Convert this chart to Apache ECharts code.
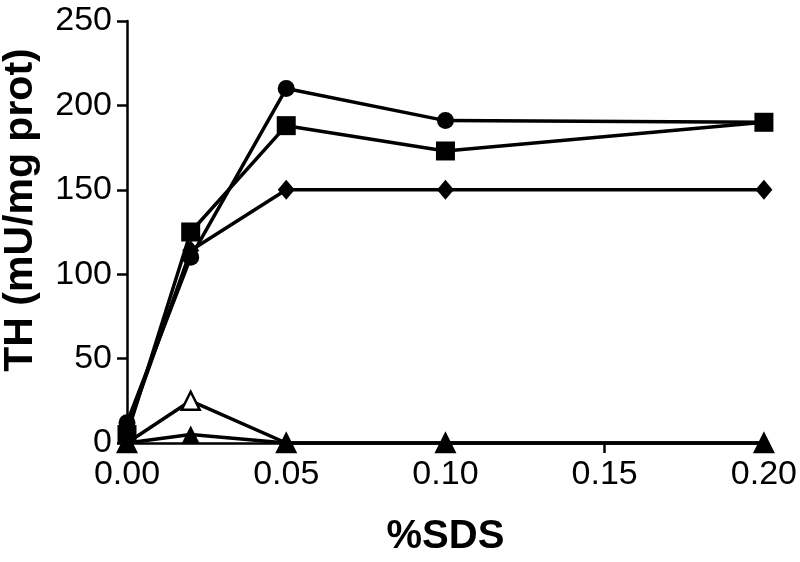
<!DOCTYPE html>
<html>
<head>
<meta charset="utf-8">
<script src="https://cdn.jsdelivr.net/npm/echarts@6/dist/echarts.min.js"></script>
<style>html,body{margin:0;padding:0;background:#fff;}#chart{width:800px;height:562px;}</style>
</head>
<body>
<div id="chart"></div>
<script>
var sds = [0.00, 0.02, 0.05, 0.10, 0.20];
var circleVals = [12, 110, 210, 191, 190];
var squareVals = [5, 125, 188, 173, 190];
var diamondVals = [8, 114, 150, 150, 150];
var openTriVals = [0, 25, 0, 0, 0];
var filledTriVals = [0, 5, 0, 0, 0];
var xTicks = [0, 0.05, 0.10, 0.15, 0.20];
var yTicks = [0, 50, 100, 150, 200, 250];
var xTitle = '%SDS';
var yTitle = 'TH (mU/mg prot)';

function pairs(vals) { return sds.map(function (x, i) { return [x, vals[i]]; }); }

var font = 'Liberation Sans, Arial, sans-serif';
var chart = echarts.init(document.getElementById('chart'));
function mk(name, vals, symbol, size, fill) {
  return {
    name: name, type: 'line', data: pairs(vals), symbol: symbol, symbolSize: size,
    lineStyle: { color: '#000', width: 3.5 },
    itemStyle: { color: fill, borderColor: '#000', borderWidth: fill === '#fff' ? 2.5 : 0 },
    z: 3, animation: false
  };
}
chart.setOption({
  animation: false,
  grid: { left: 127, right: 33, top: 21, bottom: 116, containLabel: false },
  graphic: [{
    type: 'text', x: 21, y: 210, rotation: Math.PI / 2,
    style: { text: yTitle, fontFamily: font, fontWeight: 'bold', fontSize: 41, fill: '#000',
      align: 'center', verticalAlign: 'middle' }
  }],
  xAxis: {
    type: 'value', min: 0, max: 0.2, interval: 0.05,
    name: xTitle, nameLocation: 'middle', nameGap: 74,
    nameTextStyle: { fontFamily: font, fontWeight: 'bold', fontSize: 40, color: '#000' },
    axisLine: { show: true, onZero: false, lineStyle: { color: '#000', width: 2.5 } },
    axisTick: { show: true, length: 10, lineStyle: { color: '#000', width: 2.5 } },
    axisLabel: { fontFamily: font, fontSize: 34, color: '#000', margin: 15,
      formatter: function (v) { return v.toFixed(2); } },
    splitLine: { show: false }
  },
  yAxis: {
    type: 'value', min: 0, max: 250, interval: 50,
    axisLine: { show: true, lineStyle: { color: '#000', width: 2.5 } },
    axisTick: { show: true, length: 10, lineStyle: { color: '#000', width: 2.5 } },
    axisLabel: { fontFamily: font, fontSize: 34, color: '#000', margin: 15 },
    splitLine: { show: false }
  },
  series: [
    mk('circle', circleVals, 'circle', 17, '#000'),
    mk('square', squareVals, 'rect', 19, '#000'),
    mk('diamond', diamondVals, 'diamond', [17, 20], '#000'),
    mk('openTri', openTriVals, 'triangle', 18, '#fff'),
    mk('filledTri', filledTriVals, 'triangle', 18, '#000')
  ]
});
</script>
</body>
</html>
